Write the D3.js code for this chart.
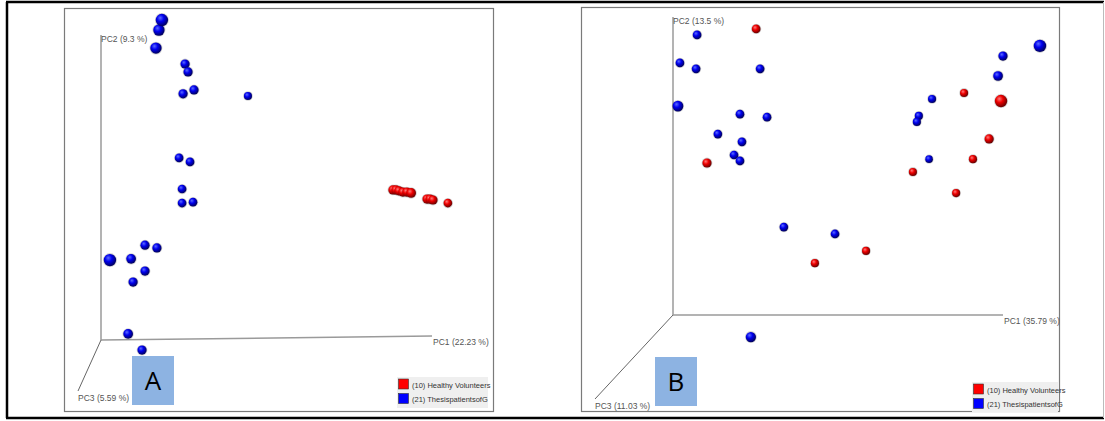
<!DOCTYPE html>
<html>
<head>
<meta charset="utf-8">
<script src="https://cdn.jsdelivr.net/npm/d3@7"></script>
<style>
  body { margin: 0; background: #fff; }
  svg { display: block; font-family: "Liberation Sans", Arial, sans-serif; }
</style>
</head>
<body>
<div id="chart"></div>
<script>
// projected PCoA scores, as fractions of the PC1 / PC2 axis lengths drawn in each panel
// depth = how near the sphere looks (bigger = nearer)
const groups = ["(10) Healthy Volunteers", "(21) ThesispatientsofG"];
const groupColors = ["red", "blue"];

// Panel A
const aBlueX = [0.184, 0.175, 0.166, 0.254, 0.263, 0.248, 0.281, 0.444, 0.236, 0.269, 0.245,
                0.245, 0.278, 0.133, 0.169, 0.027, 0.091, 0.133, 0.097, 0.082, 0.124];
const aBlueY = [1.049, 1.016, 0.957, 0.905, 0.879, 0.807, 0.820, 0.800, 0.597, 0.584, 0.495,
                0.449, 0.452, 0.311, 0.302, 0.262, 0.266, 0.226, 0.190, 0.020, -0.033];
const aBlueD = [1.3, 1.2, 1.2, 1, 1, 1, 1, 0.9, 0.95, 0.95, 0.95,
                0.95, 0.95, 1, 1, 1.3, 1.05, 1, 1, 1.05, 1];
const aRedX = [0.882, 0.891, 0.900, 0.912, 0.924, 0.937, 0.985, 0.994, 1.003, 1.048];
const aRedY = [0.492, 0.492, 0.489, 0.485, 0.485, 0.482, 0.462, 0.462, 0.459, 0.449];
const aRedD = [1, 1, 1, 1, 1, 1.05, 1, 1, 1, 0.95];

// Panel B
const bBlueX = [0.073, 0.021, 0.070, 0.015, 0.264, 0.203, 0.285, 0.136, 0.209, 0.185, 0.203,
                0.336, 0.491, 0.236, 1.112, 1.000, 0.985, 0.785, 0.745, 0.739, 0.776];
const bBlueY = [0.940, 0.846, 0.826, 0.701, 0.826, 0.674, 0.664, 0.607, 0.581, 0.537, 0.517,
                0.295, 0.272, -0.074, 0.903, 0.869, 0.802, 0.725, 0.668, 0.648, 0.523];
const bBlueD = [0.95, 0.95, 0.95, 1.15, 0.95, 0.95, 0.95, 0.95, 0.95, 0.95, 0.95,
                0.95, 0.95, 1.1, 1.3, 1, 1.05, 0.9, 0.9, 0.9, 0.85];
const bRedX = [0.252, 0.103, 0.430, 0.585, 0.882, 0.994, 0.958, 0.909, 0.727, 0.858];
const bRedY = [0.960, 0.510, 0.174, 0.215, 0.745, 0.718, 0.591, 0.523, 0.480, 0.409];
const bRedD = [0.95, 1, 0.9, 0.9, 0.9, 1.3, 1, 0.9, 0.9, 0.9];

const panelLabels = ["A", "B"];
const pc1Labels = ["PC1 (22.23 %)", "PC1 (35.79 %)"];
const pc2Labels = ["PC2 (9.3 %)", "PC2 (13.5 %)"];
const pc3Labels = ["PC3 (5.59 %)", "PC3 (11.03 %)"];

const W = 1105, H = 421;

const svg = d3.select("#chart").append("svg")
    .attr("width", W)
    .attr("height", H);

// sphere gradients
const defs = svg.append("defs");
function sphereGrad(id, light, mid, dark) {
    const g = defs.append("radialGradient")
        .attr("id", id)
        .attr("cx", "40%").attr("cy", "38%").attr("r", "62%")
        .attr("fx", "36%").attr("fy", "32%");
    g.append("stop").attr("offset", "0%").attr("stop-color", light);
    g.append("stop").attr("offset", "45%").attr("stop-color", mid);
    g.append("stop").attr("offset", "100%").attr("stop-color", dark);
}
sphereGrad("sph-red", "#ff7a7a", "#ee0000", "#6a0000");
sphereGrad("sph-blue", "#5b6bff", "#0000ee", "#00005e");

// outer frame
svg.append("line").attr("x1", 6).attr("x2", 1104).attr("y1", 2).attr("y2", 2)
    .attr("stroke", "#000").attr("stroke-width", 2.5);
svg.append("line").attr("x1", 6).attr("x2", 1104).attr("y1", 418).attr("y2", 418)
    .attr("stroke", "#000").attr("stroke-width", 2.5);
svg.append("line").attr("x1", 7).attr("x2", 7).attr("y1", 2).attr("y2", 418)
    .attr("stroke", "#000").attr("stroke-width", 2.5);
svg.append("line").attr("x1", 1103.5).attr("x2", 1103.5).attr("y1", 2).attr("y2", 418)
    .attr("stroke", "#bbb").attr("stroke-width", 1);

const panels = [
    { box: [64, 8, 493, 411], origin: [101, 340], pc1End: [432, 336], pc2Top: 35, pc3End: [78, 391],
      label: [132, 356, 42, 49], legend: [397, 377, 91, 31],
      blue: [aBlueX, aBlueY, aBlueD], red: [aRedX, aRedY, aRedD] },
    { box: [581, 7, 1059, 411], origin: [673, 315], pc1End: [1003, 315], pc2Top: 17, pc3End: [595, 399],
      label: [655, 357, 42, 49], legend: [972, 382, 86, 30],
      blue: [bBlueX, bBlueY, bBlueD], red: [bRedX, bRedY, bRedD] }
];

panels.forEach(function(p, i) {
    const g = svg.append("g");

    g.append("rect")
        .attr("x", p.box[0] + 0.5).attr("y", p.box[1] + 0.5)
        .attr("width", p.box[2] - p.box[0]).attr("height", p.box[3] - p.box[1])
        .attr("fill", "#fff").attr("stroke", "#7a7a7a").attr("stroke-width", 1.2);

    // scales: projected scores -> pixels
    const x = d3.scaleLinear().domain([0, 1]).range([p.origin[0], p.pc1End[0]]);
    const y = d3.scaleLinear().domain([0, 1]).range([p.origin[1], p.pc2Top]);
    const r = d3.scaleLinear().domain([1, 1.3]).range([4.6, 6.2]);

    // axes
    const axisColor = "#9a9a9a";
    g.append("line").attr("x1", p.origin[0]).attr("y1", p.origin[1])
        .attr("x2", p.origin[0]).attr("y2", p.pc2Top)
        .attr("stroke", axisColor).attr("stroke-width", 1.5);
    g.append("line").attr("x1", p.origin[0]).attr("y1", p.origin[1])
        .attr("x2", p.pc1End[0]).attr("y2", p.pc1End[1])
        .attr("stroke", axisColor).attr("stroke-width", 1.5);
    g.append("line").attr("x1", p.origin[0]).attr("y1", p.origin[1])
        .attr("x2", p.pc3End[0]).attr("y2", p.pc3End[1])
        .attr("stroke", "#666").attr("stroke-width", 1);

    const lab = { "font-size": "8.5px", fill: "#555" };
    g.append("text").attr("x", p.origin[0]).attr("y", p.pc2Top + 7)
        .attr("font-size", lab["font-size"]).attr("fill", lab.fill).text(pc2Labels[i]);
    g.append("text").attr("x", p.pc1End[0] + 1).attr("y", p.pc1End[1] + 9)
        .attr("font-size", lab["font-size"]).attr("fill", lab.fill).text(pc1Labels[i]);
    g.append("text").attr("x", p.pc3End[0]).attr("y", p.pc3End[1] + 10)
        .attr("font-size", lab["font-size"]).attr("fill", lab.fill).text(pc3Labels[i]);

    // points: red first, then blue, both as spheres
    const sets = [
        { d: p.red, fill: "url(#sph-red)" },
        { d: p.blue, fill: "url(#sph-blue)" }
    ];
    sets.forEach(function(s) {
        const pts = s.d[0].map((v, k) => ({ u: v, v: s.d[1][k], depth: s.d[2][k] }));
        pts.sort((a, b) => a.depth - b.depth);
        g.selectAll(null).data(pts).enter().append("circle")
            .attr("cx", d => x(d.u))
            .attr("cy", d => y(d.v))
            .attr("r", d => r(d.depth) + 0.8)
            .attr("fill", "#000").attr("opacity", 0.18);
        g.selectAll(null).data(pts).enter().append("circle")
            .attr("cx", d => x(d.u))
            .attr("cy", d => y(d.v))
            .attr("r", d => r(d.depth))
            .attr("fill", s.fill);
    });

    // panel letter
    g.append("rect").attr("x", p.label[0]).attr("y", p.label[1])
        .attr("width", p.label[2]).attr("height", p.label[3])
        .attr("fill", "#8db3e2");
    g.append("text")
        .attr("x", p.label[0] + p.label[2] / 2).attr("y", p.label[1] + p.label[3] / 2 + 9)
        .attr("text-anchor", "middle")
        .attr("font-family", "Open Sans, Liberation Sans, sans-serif")
        .attr("font-size", "26px").attr("fill", "#000")
        .text(panelLabels[i]);

    // legend
    const lg = g.append("g").attr("transform", `translate(${p.legend[0]},${p.legend[1]})`);
    lg.append("rect").attr("width", p.legend[2]).attr("height", p.legend[3])
        .attr("fill", "#efefef");
    groups.forEach(function(name, k) {
        lg.append("rect").attr("x", 1.5).attr("y", 2 + k * 14.5)
            .attr("width", 10).attr("height", 10)
            .attr("fill", groupColors[k]).attr("stroke", "#333").attr("stroke-width", 0.6);
        lg.append("text").attr("x", 15).attr("y", 10.5 + k * 14.5)
            .attr("font-size", "7.5px").attr("fill", "#333")
            .text(name);
    });
});
</script>
</body>
</html>
